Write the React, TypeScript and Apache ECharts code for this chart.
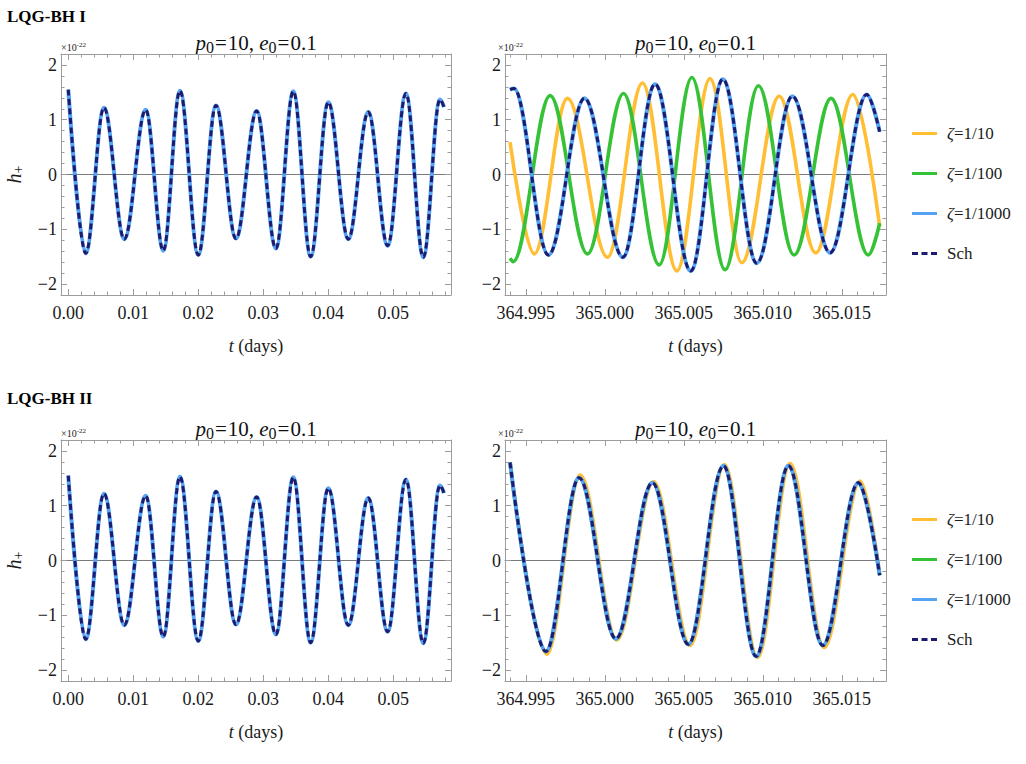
import React, { useEffect, useRef } from "react";
import * as echarts from "echarts";

// ---------- data (t, h+ in units of 1e-22) ----------
const SERIES_NAMES = ["ζ=1/10", "ζ=1/100", "ζ=1/1000", "Sch"];

// early window (t ≈ 0 days); all curves coincide here (same for LQG-BH I and II)
const earlyWave = [
  [0, 1.55], [0.00268, -1.44], [0.00549, 1.22], [0.00862, -1.18], [0.01191, 1.18],
  [0.01462, -1.39], [0.01718, 1.53], [0.02, -1.47], [0.02272, 1.26], [0.0258, -1.17],
  [0.02898, 1.16], [0.03195, -1.35], [0.03462, 1.52], [0.03729, -1.5], [0.04, 1.32],
  [0.04308, -1.18], [0.04615, 1.14], [0.04914, -1.3], [0.05195, 1.48], [0.05462, -1.51],
  [0.05718, 1.37], [0.0578, 1.23],
];

// late window (t ≈ 365 days), LQG-BH I
const lateI_zeta10 = [
  [364.994, 0.59], [364.99553, -1.45], [364.99763, 1.39], [365.00017, -1.51], [365.00238, 1.67],
  [365.00456, -1.76], [365.00666, 1.75], [365.00867, -1.61], [365.01104, 1.43], [365.01335, -1.43],
  [365.0157, 1.46], [365.0174, -0.95],
];
const lateI_zeta100 = [
  [364.994, -1.53], [364.9942, -1.59], [364.99654, 1.44], [364.9989, -1.45], [365.00118, 1.48],
  [365.00344, -1.65], [365.00551, 1.77], [365.00761, -1.74], [365.00972, 1.62], [365.01198, -1.47],
  [365.01432, 1.39], [365.01668, -1.47], [365.0174, -0.89],
];
const lateI_sch = [
  [364.994, 1.55], [364.99425, 1.57], [364.99643, -1.47], [364.99871, 1.39], [365.00114, -1.51],
  [365.00318, 1.65], [365.00544, -1.76], [365.00747, 1.74], [365.00962, -1.62], [365.01187, 1.43],
  [365.01426, -1.43], [365.01658, 1.46], [365.0174, 0.78],
];

// late window, LQG-BH II
const lateII_zeta10 = [
  [364.994, 1.79], [364.99633, -1.71], [364.99844, 1.56], [365.00076, -1.45], [365.00308, 1.44],
  [365.0054, -1.55], [365.00757, 1.75], [365.00966, -1.77], [365.01173, 1.77], [365.01388, -1.59],
  [365.01616, 1.45], [365.0174, -0.24],
];
const lateII_sch = [
  [364.994, 1.79], [364.99627, -1.66], [364.99837, 1.51], [365.0007, -1.43], [365.00301, 1.42],
  [365.00529, -1.53], [365.00751, 1.73], [365.00958, -1.75], [365.01162, 1.73], [365.0138, -1.55],
  [365.01605, 1.42], [365.0174, -0.27],
];

// ticks
const yMajor = [-2, -1, 0, 1, 2];
const yMinor = [-1.8, -1.6, -1.4, -1.2, -0.8, -0.6, -0.4, -0.2, 0.2, 0.4, 0.6, 0.8, 1.2, 1.4, 1.6, 1.8];
const earlyMajor = [0, 0.01, 0.02, 0.03, 0.04, 0.05];
const earlyMinor = [0.002, 0.004, 0.006, 0.008, 0.012, 0.014, 0.016, 0.018, 0.022, 0.024, 0.026, 0.028,
  0.032, 0.034, 0.036, 0.038, 0.042, 0.044, 0.046, 0.048, 0.052, 0.054, 0.056, 0.058];
const lateMajor = [364.995, 365.0, 365.005, 365.01, 365.015];
const lateMinor = [364.994, 364.996, 364.997, 364.998, 364.999, 365.001, 365.002, 365.003, 365.004,
  365.006, 365.007, 365.008, 365.009, 365.011, 365.012, 365.013, 365.014, 365.016, 365.017];

// ---------- styles ----------
const SERIF = "Times New Roman";
const FRAME = "#9c9c9c";
const LABEL = "#1a1a1a";
const COLORS: Record<string, string> = {
  "ζ=1/10": "#FFBE33",
  "ζ=1/100": "#36C236",
  "ζ=1/1000": "#55A3F2",
  Sch: "#1C1B6E",
};

const GRIDS = [
  { left: 61, top: 54, width: 390, height: 241 },
  { left: 505, top: 54, width: 381, height: 241 },
  { left: 61, top: 440, width: 390, height: 241 },
  { left: 505, top: 440, width: 381, height: 241 },
];
const EARLY_RANGE = [-0.00112, 0.05888];
const LATE_RANGE = [364.99368, 365.0178];

const tick = (vals: number[], len: number) => ({
  show: true, inside: true, length: len, customValues: vals, lineStyle: { color: FRAME, width: 1 },
});

const labelStyle = { fontFamily: SERIF, fontSize: 18, color: LABEL };

function xAxes(g: number, range: number[], majors: number[], minors: number[], digits: number) {
  const base = { type: "value", gridIndex: g, min: range[0], max: range[1], splitLine: { show: false } };
  return [
    {
      ...base, position: "bottom",
      axisLine: { show: true, onZero: false, lineStyle: { color: FRAME, width: 1 } },
      axisTick: tick(majors, 6),
      axisLabel: {
        show: true, customValues: majors, formatter: (v: number) => v.toFixed(digits),
        margin: 9, ...labelStyle,
      },
      name: "{i|t}{n| (days)}", nameLocation: "middle", nameGap: 42,
      nameTextStyle: {
        rich: {
          i: { fontFamily: SERIF, fontStyle: "italic", fontSize: 18, color: LABEL },
          n: { fontFamily: SERIF, fontSize: 18, color: LABEL },
        },
      },
    },
    { ...base, position: "bottom", axisLine: { show: false, onZero: false }, axisTick: tick(minors, 3.5), axisLabel: { show: false } },
    { ...base, position: "top", axisLine: { show: true, onZero: false, lineStyle: { color: FRAME, width: 1 } }, axisTick: tick(majors, 6), axisLabel: { show: false } },
    { ...base, position: "top", axisLine: { show: false, onZero: false }, axisTick: tick(minors, 3.5), axisLabel: { show: false } },
    { ...base, position: "bottom", axisLine: { show: true, onZero: true, lineStyle: { color: "#7a7a7a", width: 1 } }, axisTick: { show: false }, axisLabel: { show: false } },
  ];
}

function yAxes(g: number, withName: boolean) {
  const base = { type: "value", gridIndex: g, min: -2.2, max: 2.2, splitLine: { show: false } };
  const main: any = {
    ...base, position: "left",
    axisLine: { show: true, onZero: false, lineStyle: { color: FRAME, width: 1 } },
    axisTick: tick(yMajor, 6),
    axisLabel: {
      show: true, customValues: yMajor,
      formatter: (v: number) => (v < 0 ? "\u2212" + Math.abs(v) : String(v)),
      margin: 4, ...labelStyle,
    },
  };
  if (withName) {
    Object.assign(main, {
      name: "{i|h}{s|+}", nameLocation: "middle", nameGap: 36, nameRotate: 90,
      nameTextStyle: {
        rich: {
          i: { fontFamily: SERIF, fontStyle: "italic", fontSize: 20, lineHeight: 22, color: LABEL },
          s: { fontFamily: SERIF, fontSize: 14, lineHeight: 12, verticalAlign: "bottom", color: LABEL },
        },
      },
    });
  }
  return [
    main,
    { ...base, position: "left", axisLine: { show: false, onZero: false }, axisTick: tick(yMinor, 3.5), axisLabel: { show: false } },
    { ...base, position: "right", axisLine: { show: true, onZero: false, lineStyle: { color: FRAME, width: 1 } }, axisTick: tick(yMajor, 6), axisLabel: { show: false } },
    { ...base, position: "right", axisLine: { show: false, onZero: false }, axisTick: tick(yMinor, 3.5), axisLabel: { show: false } },
  ];
}

function lineSeries(g: number, name: string, data: number[][], z: number) {
  const isSch = name === "Sch";
  return {
    type: "line", name, data, xAxisIndex: g * 5, yAxisIndex: g * 4,
    smooth: 0.36, smoothMonotone: "x", showSymbol: false, symbol: "none", silent: true, z,
    color: COLORS[name],
    itemStyle: { color: COLORS[name] },
    lineStyle: isSch
      ? { color: COLORS[name], width: 3, type: [6, 3.5] }
      : { color: COLORS[name], width: name === "ζ=1/1000" ? 4 : 3.6 },
  };
}

const LEGEND_ICON: Record<string, string> = {
  "ζ=1/10": "path://M0,0H25V3H0Z",
  "ζ=1/100": "path://M0,0H25V3H0Z",
  "ζ=1/1000": "path://M0,0H25V3H0Z",
  Sch: "path://M0,0H6V3H0ZM9.5,0H15.5V3H9.5ZM19,0H25V3H19Z",
};

function legendAt(top: number) {
  return {
    orient: "vertical", left: 907, top, itemWidth: 25, itemHeight: 3, itemGap: 23,
    selectedMode: false,
    data: SERIES_NAMES.map((n) => ({ name: n, icon: LEGEND_ICON[n] })),
    formatter: (name: string) => (name.startsWith("ζ") ? `{i|ζ}{n|${name.slice(1)}}` : `{s|${name}}`),
    textStyle: {
      fontFamily: SERIF,
      rich: {
        i: { fontFamily: SERIF, fontStyle: "italic", fontSize: 17, lineHeight: 18, color: LABEL, padding: [0, 0, 0, 5] },
        n: { fontFamily: SERIF, fontSize: 17, lineHeight: 18, color: LABEL },
        s: { fontFamily: SERIF, fontSize: 17, lineHeight: 18, color: LABEL, padding: [0, 0, 0, 5] },
      },
    },
  };
}

const titleRich = {
  i: { fontFamily: SERIF, fontStyle: "italic", fontSize: 21, lineHeight: 24, fill: "#111" },
  n: { fontFamily: SERIF, fontSize: 21, lineHeight: 24, fill: "#111" },
  o: { fontFamily: SERIF, fontSize: 21, lineHeight: 24, fill: "#111", padding: [0, 1, 0, 1] },
  s: { fontFamily: SERIF, fontSize: 16, lineHeight: 14, verticalAlign: "bottom", fill: "#111" },
};
const TITLE = "{i|p}{s|0}{o|=}{n|10, }{i|e}{s|0}{o|=}{n|0.1}";

const expRich = {
  a: { fontFamily: SERIF, fontSize: 10, lineHeight: 12, fill: "#222" },
  b: { fontFamily: SERIF, fontSize: 7, lineHeight: 8, verticalAlign: "top", fill: "#222" },
};

function textEl(x: number, y: number, text: string, rich: any, align: string) {
  return {
    type: "text", x, y, silent: true,
    style: { text, rich, fontFamily: SERIF, align, textAlign: align, verticalAlign: "middle", textVerticalAlign: "middle" },
  };
}

export default function App() {
  const ref = useRef<HTMLDivElement>(null);
  useEffect(() => {
    if (!ref.current) return;
    const chart = echarts.init(ref.current, undefined, { renderer: "svg" });

    const xAxis = [
      ...xAxes(0, EARLY_RANGE, earlyMajor, earlyMinor, 2),
      ...xAxes(1, LATE_RANGE, lateMajor, lateMinor, 3),
      ...xAxes(2, EARLY_RANGE, earlyMajor, earlyMinor, 2),
      ...xAxes(3, LATE_RANGE, lateMajor, lateMinor, 3),
    ];
    const yAxis = [...yAxes(0, true), ...yAxes(1, false), ...yAxes(2, true), ...yAxes(3, false)];

    const series = [
      lineSeries(0, "ζ=1/1000", earlyWave, 4),
      lineSeries(0, "Sch", earlyWave, 5),
      lineSeries(1, "ζ=1/10", lateI_zeta10, 2),
      lineSeries(1, "ζ=1/100", lateI_zeta100, 3),
      lineSeries(1, "ζ=1/1000", lateI_sch, 4),
      lineSeries(1, "Sch", lateI_sch, 5),
      lineSeries(2, "ζ=1/1000", earlyWave, 4),
      lineSeries(2, "Sch", earlyWave, 5),
      lineSeries(3, "ζ=1/10", lateII_zeta10, 2),
      lineSeries(3, "ζ=1/100", lateII_sch, 3),
      lineSeries(3, "ζ=1/1000", lateII_sch, 4),
      lineSeries(3, "Sch", lateII_sch, 5),
    ];

    const boldRich = { b: { fontFamily: SERIF, fontWeight: "bold", fontSize: 17, fill: "#000" } };
    const graphic = [
      textEl(7, 16, "{b|LQG-BH I}", boldRich, "left"),
      textEl(7, 398, "{b|LQG-BH II}", boldRich, "left"),
      ...GRIDS.map((g, i) => textEl(g.left + g.width / 2, i < 2 ? 43 : 429, TITLE, titleRich, "center")),
      ...GRIDS.map((g, i) => textEl(i % 2 === 0 ? 61 : 498, i < 2 ? 47 : 433, "{a|×10}{b|-22}", expRich, "left")),
    ];

    chart.setOption({
      animation: false,
      backgroundColor: "#ffffff",
      textStyle: { fontFamily: SERIF },
      grid: GRIDS.map((g) => ({ ...g, containLabel: false })),
      xAxis,
      yAxis,
      series,
      legend: [legendAt(120), legendAt(506)],
      graphic,
    } as any);
    return () => chart.dispose();
  }, []);
  return (
    <div
      ref={ref}
      style={{ position: "fixed", left: 0, top: 0, width: 1026, height: 764, background: "#fff" }}
    />
  );
}
